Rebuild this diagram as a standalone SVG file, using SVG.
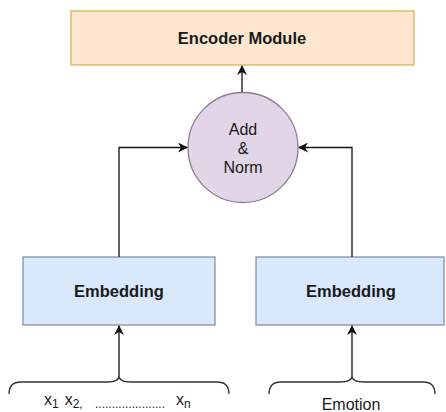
<svg xmlns="http://www.w3.org/2000/svg" width="446" height="412" viewBox="0 0 446 412">
<style>
.t{font-family:"Liberation Sans",Arial,sans-serif;fill:#1a1a1a}
.b{font-weight:bold;font-size:16.5px}
.r{font-size:16px}
.ln{fill:none;stroke:#111;stroke-width:1.3}
.br{fill:none;stroke:#333;stroke-width:1.3}
</style>
<defs>
<marker id="ah" viewBox="0 0 10 10" refX="9" refY="5" markerWidth="10" markerHeight="10" markerUnits="userSpaceOnUse" orient="auto">
<path d="M0,0 L10,5 L0,10 L3,5 Z" fill="#111"/>
</marker>
</defs>
<rect width="446" height="412" fill="#fff"/>
<g id="encoder">
<rect x="71" y="11" width="343" height="54" fill="#fce6d0" stroke="#d6b656" stroke-width="1.3"/>
<text class="t b" x="242" y="44" text-anchor="middle">Encoder Module</text>
</g>
<g id="addnorm">
<circle cx="243" cy="147.5" r="55" fill="#e1d5e7" stroke="#8a7f8e" stroke-width="1.3"/>
<text class="t r" x="243" y="135" text-anchor="middle">Add</text>
<text class="t r" x="243" y="154" text-anchor="middle">&amp;</text>
<text class="t r" x="243" y="173" text-anchor="middle">Norm</text>
</g>
<g id="embedding1">
<rect x="23" y="257" width="192" height="68" fill="#dae8fc" stroke="#7f93ad" stroke-width="1.3"/>
<text class="t b" x="119" y="297" text-anchor="middle">Embedding</text>
</g>
<g id="embedding2">
<rect x="256" y="257" width="188" height="68" fill="#dae8fc" stroke="#7f93ad" stroke-width="1.3"/>
<text class="t b" x="351" y="297" text-anchor="middle">Embedding</text>
</g>
<g id="input1">
<path class="br" d="M9,394 Q9,382 21,382 L107,382 Q119,382 119,376 Q119,382 131,382 L217,382 Q229,382 229,394"/>
<text class="t r" x="44" y="405">x<tspan font-size="12" dy="3">1</tspan><tspan dx="6" dy="-3">x</tspan><tspan font-size="12" dy="3">2,</tspan></text>
<text class="t" font-size="12" x="95" y="408">.....................</text>
<text class="t r" x="176" y="405">x<tspan font-size="12" dy="3">n</tspan></text>
</g>
<g id="input2">
<path class="br" d="M269,394 Q269,382 281,382 L340,382 Q352,382 352,376 Q352,382 364,382 L423,382 Q435,382 435,394"/>
<text class="t r" x="351" y="410" text-anchor="middle">Emotion</text>
</g>
<g id="connectors">
<path class="ln" d="M242,92 L242,66" marker-end="url(#ah)"/>
<path class="ln" d="M119,257 L119,147.5 L187,147.5" marker-end="url(#ah)"/>
<path class="ln" d="M352,257 L352,147.5 L299,147.5" marker-end="url(#ah)"/>
<path class="ln" d="M119,376 L119,326" marker-end="url(#ah)"/>
<path class="ln" d="M352,376 L352,326" marker-end="url(#ah)"/>
</g>
</svg>
